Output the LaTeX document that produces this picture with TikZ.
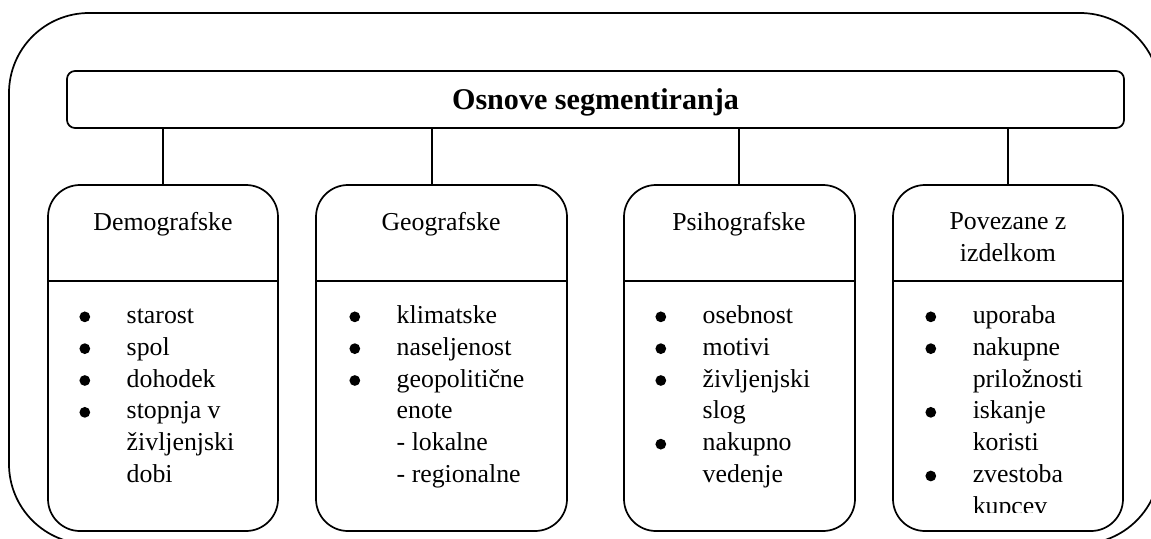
\documentclass[tikz,border=0pt]{standalone}
\usepackage{fontspec}
\setmainfont{Liberation Serif}
\usepackage{array}
\usetikzlibrary{positioning}
\newcommand{\px}{0.01634cm}
\newcommand{\blt}{\tikz[baseline=-3.1pt]\fill (0,0) circle (2.5pt);}

\begin{document}
\begin{tikzpicture}[x=\px, y=-\px, line width=0.8pt,
  font=\fontsize{12}{14.8}\selectfont,
  titlebox/.style={draw, rounded corners=8*\px, minimum width=1057*\px,
    minimum height=57*\px, inner sep=0pt, text depth=0pt,
    font=\fontsize{14}{16}\selectfont\bfseries},
  catbox/.style={draw, rounded corners=32*\px, minimum width=230*\px,
    minimum height=346*\px, inner sep=0pt},
  head/.style={anchor=base, align=center, inner sep=0pt},
  items/.style={anchor=base west, inner sep=0pt}]
  \useasboundingbox (0,0) rectangle (1151,538);
  \clip (0,0) rectangle (1151,538);
  \draw[rounded corners=80*\px] (9,13) rectangle (1160,544);
  \node[titlebox] (title) at (595.5,99.5) {Osnove segmentiranja};
  \node[catbox] (demo) at (163,358) {};
  \node[catbox, minimum width=251*\px] (geo) at (441.5,358) {};
  \node[catbox, minimum width=231*\px] (psi) at (739.5,358) {};
  \node[catbox] (izd) at (1008,358) {};
  \foreach \b in {demo,geo,psi,izd}
    \draw ([yshift=-97*\px]\b.north west) -- ([yshift=-97*\px]\b.north east);
  \draw (title.south -| demo.north) -- (demo.north);
  \draw ([xshift=-9.5*\px]geo.north) -- ([xshift=-9.5*\px]geo.north |- title.south);
  \draw ([xshift=-0.5*\px]psi.north) -- ([xshift=-0.5*\px]psi.north |- title.south);
  \draw (title.south -| izd.north) -- (izd.north);
  \node[head] (demohead) at (163,230) {Demografske};
  \node[head] (geohead) at (441,230) {Geografske};
  \node[head] (psihead) at (739,230) {Psihografske};
  \node[head] (izdhead) at (1008,261) {Povezane z\\izdelkom};
  \node[items] (demolist) at (79,323.5) {\begin{tabular}[t]{@{}p{22pt}@{}l@{}}
    \blt & starost\\
    \blt & spol\\
    \blt & dohodek\\
    \blt & stopnja v\\
    & življenjski\\
    & dobi
  \end{tabular}};
  \node[items] (geolist) at (349,323.5) {\begin{tabular}[t]{@{}p{22pt}@{}l@{}}
    \blt & klimatske\\
    \blt & naseljenost\\
    \blt & geopolitične\\
    & enote\\
    & - lokalne\\
    & - regionalne
  \end{tabular}};
  \node[items] (psilist) at (655,323.5) {\begin{tabular}[t]{@{}p{22pt}@{}l@{}}
    \blt & osebnost\\
    \blt & motivi\\
    \blt & življenjski\\
    & slog\\
    \blt & nakupno\\
    & vedenje
  \end{tabular}};
  \begin{scope}
    \clip (893,185) rectangle (1123,512);
    \node[items] (izdlist) at (925,323.5) {\begin{tabular}[t]{@{}p{22pt}@{}l@{}}
      \blt & uporaba\\
      \blt & nakupne\\
      & priložnosti\\
      \blt & iskanje\\
      & koristi\\
      \blt & zvestoba\\
      & kupcev
    \end{tabular}};
  \end{scope}
\end{tikzpicture}
\end{document}
